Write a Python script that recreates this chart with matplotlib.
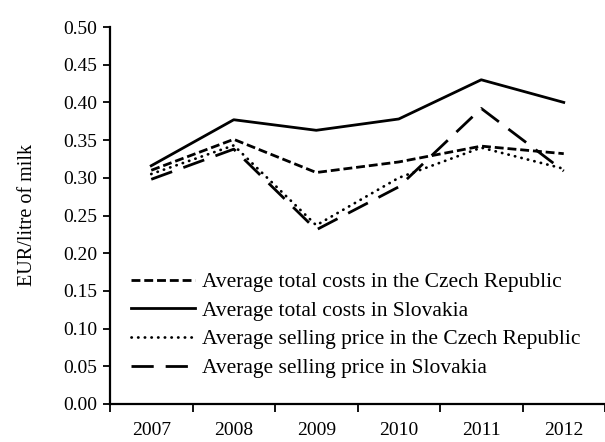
import matplotlib.pyplot as plt

plt.rcParams['font.family'] = ['Liberation Serif', 'DejaVu Serif']

years = ['2007', '2008', '2009', '2010', '2011', '2012']
cz_costs = [0.310, 0.351, 0.307, 0.321, 0.342, 0.332]
sk_costs = [0.316, 0.377, 0.363, 0.378, 0.430, 0.400]
cz_price = [0.305, 0.343, 0.237, 0.300, 0.340, 0.312]
sk_price = [0.298, 0.338, 0.231, 0.288, 0.392, 0.309]

labels = ['Average total costs in the Czech Republic',
          'Average total costs in Slovakia',
          'Average selling price in the Czech Republic',
          'Average selling price in Slovakia']

fig = plt.figure(figsize=(6.05, 4.42), dpi=100)
ax = fig.add_axes([110 / 605, 1 - 404 / 442, 495 / 605, 377 / 442])

x = range(len(years))
lw = 2.0
ax.plot(x, cz_costs, color='black', lw=lw, dashes=(3.2, 1.4), label=labels[0])
ax.plot(x, sk_costs, color='black', lw=lw, label=labels[1])
# round dots, spaced like the reference
ax.plot(x, cz_price, color='black', lw=lw, linestyle=(0, (0.1, 2.3)),
        dash_capstyle='round', label=labels[2])
ax.plot(x, sk_price, color='black', lw=lw, dashes=(8, 4.3), label=labels[3])

ax.set_xlim(-0.5, 5.5)
ax.set_ylim(0, 0.5)
ax.set_yticks([i * 0.05 for i in range(11)])
ax.set_yticklabels([f'{i * 0.05:.2f}' for i in range(11)])
ax.set_xticks(list(x))
ax.set_xticklabels(years)
ax.set_xticks([i - 0.5 for i in range(7)], minor=True)
ax.tick_params(axis='x', which='major', length=0, pad=13, labelsize=14)
ax.tick_params(axis='x', which='minor', length=6, width=1.3, direction='out')
ax.tick_params(axis='y', length=5, width=1.3, pad=4, labelsize=14)

for side in ['top', 'right']:
    ax.spines[side].set_visible(False)
for side in ['left', 'bottom']:
    ax.spines[side].set_linewidth(1.6)

ax.set_ylabel('EUR/litre of milk', fontsize=14.5, labelpad=19)

ax.legend(loc='upper left', bbox_to_anchor=(0.042, 0.35), frameon=False,
          fontsize=15.5, borderpad=0, borderaxespad=0, handlelength=3.0,
          handletextpad=0.33, labelspacing=0.4)

fig.savefig('out.png', dpi=100)
